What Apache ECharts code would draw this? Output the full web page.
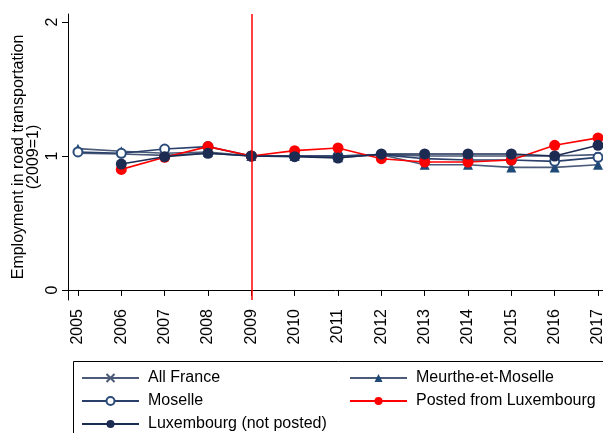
<!DOCTYPE html>
<html>
<head>
<meta charset="utf-8">
<script src="https://cdn.jsdelivr.net/npm/echarts@6/dist/echarts.min.js"></script>
<style>
  html, body { margin: 0; padding: 0; background: #fff; }
  #chart { width: 603px; height: 433px; }
</style>
</head>
<body>
<div id="chart"></div>
<script>
// Employment in road transportation, indexed to 2009 = 1
const years = [2005, 2006, 2007, 2008, 2009, 2010, 2011, 2012, 2013, 2014, 2015, 2016, 2017];
const yTicks = [0, 1, 2];

const allFrance  = [1.02, 1.015, 1.005, 1.02, 1.00, 1.00, 1.00, 1.01, 1.00, 1.00, 1.00, 1.00, 1.01];
const meurthe    = [1.055, 1.035, 1.02, 1.03, 1.00, 1.00, 0.99, 1.01, 0.935, 0.935, 0.915, 0.915, 0.935];
const moselle    = [1.03, 1.02, 1.052, 1.07, 1.00, 1.00, 1.00, 1.01, 0.98, 0.97, 0.97, 0.96, 0.99];
const postedLux  = [null, 0.90, 0.99, 1.07, 1.00, 1.04, 1.06, 0.98, 0.955, 0.955, 0.97, 1.08, 1.135];
const luxembourg = [null, 0.94, 0.995, 1.02, 1.00, 0.995, 0.985, 1.015, 1.015, 1.015, 1.015, 1.00, 1.08];

const baseYear = 2009;

const pair = arr => years.map((y, i) => [y, arr[i]]);

const FONT = '"Liberation Sans", Arial, Helvetica, sans-serif';
const FS = 16;
const crossPath = 'path://M0,0 L10,10 M10,0 L0,10';

function lineSeries(name, data, color, lineColor, symbol, size, extra) {
  return Object.assign({
    name: name,
    type: 'line',
    data: pair(data),
    symbol: symbol,
    symbolSize: size,
    showAllSymbol: true,
    connectNulls: false,
    clip: false,
    lineStyle: { color: lineColor, width: 1.6 },
    itemStyle: { color: color, borderWidth: 1.5 },
    emphasis: { disabled: true },
    animation: false,
    z: 3
  }, extra || {});
}

// one legend entry per slot so the two-column layout is fixed
function legendItem(name, left, top) {
  return {
    left: left, top: top, width: 250, padding: 0,
    itemWidth: 57, itemHeight: 10, itemGap: 0,
    selectedMode: false,
    textStyle: { fontSize: FS, color: '#000', fontFamily: FONT, padding: [0, 0, 0, 4] },
    data: [name]
  };
}

const chart = echarts.init(document.getElementById('chart'), null, { renderer: 'canvas' });

chart.setOption({
  backgroundColor: '#fff',
  animation: false,
  textStyle: { fontFamily: FONT },
  grid: { left: 68, top: 14, right: 0, bottom: 133, containLabel: false, outerBoundsMode: 'none' },
  xAxis: {
    type: 'value',
    min: 2004.77,
    max: 2017.115,
    axisLine: { show: true, lineStyle: { color: '#000', width: 1 } },
    axisTick: { show: true, length: 6, lineStyle: { color: '#000' }, customValues: years },
    axisLabel: {
      rotate: 90, fontSize: FS, color: '#000', margin: 9, fontFamily: FONT,
      customValues: years,
      formatter: v => String(v)
    },
    splitLine: { show: false }
  },
  yAxis: {
    type: 'value',
    min: -0.075,
    max: 2.06,
    name: 'Employment in road transportation\n(2009=1)',
    nameLocation: 'middle',
    nameGap: 27,
    nameRotate: 90,
    nameMoveOverlap: false,
    nameTextStyle: { fontSize: FS, color: '#000', fontFamily: FONT, lineHeight: 15 },
    axisLine: { show: true, lineStyle: { color: '#000', width: 1 } },
    axisTick: { show: true, length: 6, lineStyle: { color: '#000' }, customValues: yTicks },
    axisLabel: {
      rotate: 90, fontSize: FS, color: '#000', margin: 7, fontFamily: FONT,
      customValues: yTicks
    },
    splitLine: { show: false }
  },
  legend: [
    legendItem('All France', 81, 370),
    legendItem('Moselle', 81, 393),
    legendItem('Luxembourg (not posted)', 81, 416),
    legendItem('Meurthe-et-Moselle', 349, 370),
    legendItem('Posted from Luxembourg', 349, 393)
  ],
  graphic: [
    {
      type: 'rect',
      shape: { x: 73.5, y: 361.5, width: 560, height: 100 },
      style: { fill: 'none', stroke: '#000', lineWidth: 1 },
      silent: true
    }
  ],
  series: [
    lineSeries('All France', allFrance, '#4a5a78', '#4a5a78', crossPath, 5,
      { itemStyle: { color: '#4a5a78', borderColor: '#4a5a78', borderWidth: 1.5 } }),
    lineSeries('Meurthe-et-Moselle', meurthe, '#1f4a78', '#4a5a78', 'triangle', 10),
    lineSeries('Moselle', moselle, '#2a4a7a', '#2a3f6a', 'emptyCircle', 9),
    lineSeries('Posted from Luxembourg', postedLux, '#ff0000', '#ff0000', 'circle', 11, {
      markLine: {
        silent: true,
        symbol: 'none',
        label: { show: false },
        lineStyle: { color: '#ff0000', width: 1.5, type: 'solid' },
        data: [{ xAxis: baseYear }],
        animation: false
      }
    }),
    lineSeries('Luxembourg (not posted)', luxembourg, '#1c2b52', '#1c2b52', 'circle', 11)
  ]
});
</script>
</body>
</html>
